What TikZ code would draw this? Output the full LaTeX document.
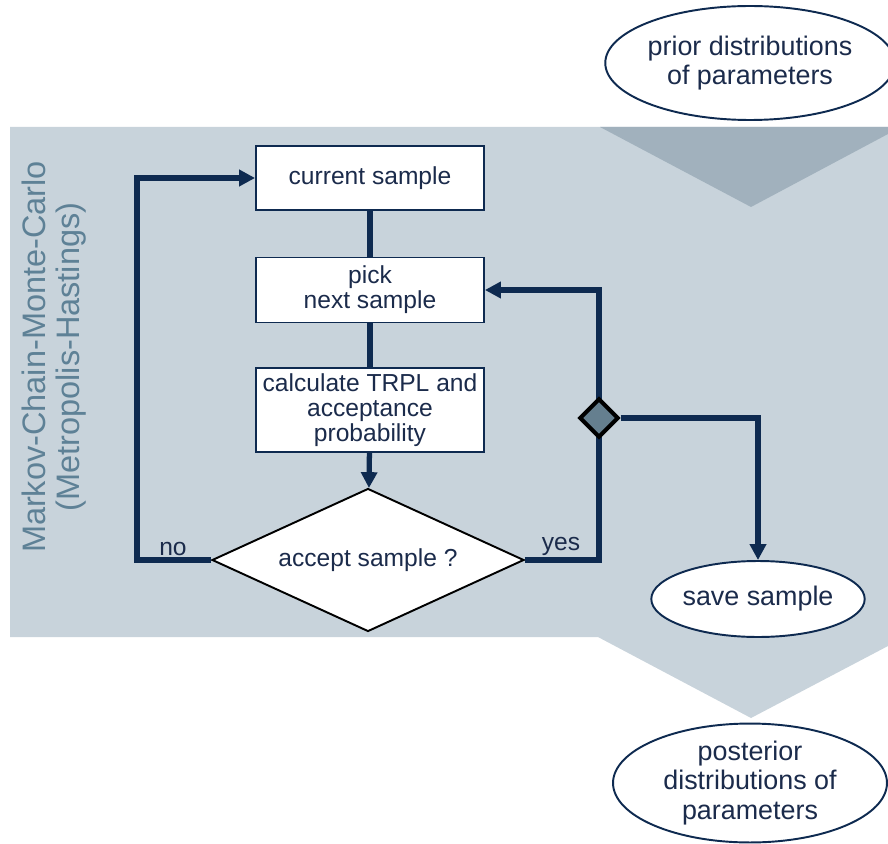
\documentclass[tikz,border=0pt]{standalone}
\usepackage{fontspec}
\setmainfont{Liberation Sans}
\usetikzlibrary{arrows.meta,shapes.geometric}
\definecolor{Panel}{HTML}{C8D3DB}
\definecolor{PanelDeep}{HTML}{A1B1BD}
\definecolor{Navy}{HTML}{0E2A50}
\definecolor{InkBlue}{HTML}{1B2B4B}
\definecolor{Slate}{HTML}{5E8196}
\definecolor{Knob}{HTML}{657F8F}

\begin{document}
\begin{tikzpicture}[x=0.02cm,y=-0.02cm,
  stepbox/.style={draw=Navy, line width=1.1pt, fill=white, minimum width=4.56cm, text=InkBlue, font=\fontsize{14}{14.2}\selectfont, align=center, inner sep=0pt},
  oval/.style={ellipse, draw=Navy, line width=1.1pt, fill=white, text=InkBlue, font=\fontsize{15.3}{16.8}\selectfont, align=center, inner sep=0pt},
  flow/.style={Navy, line width=3pt},
  tip/.style={-{Triangle[length=9pt,width=9pt]}},
  lbl/.style={text=InkBlue, font=\fontsize{14}{14}\selectfont, anchor=south, inner sep=1pt}]
\useasboundingbox (0,0) rectangle (888,844);
% background panel with the two chevrons
\fill[Panel] (10,127) -- (888,127) -- (888,646) -- (751,718) -- (598,637) -- (10,637) -- cycle;
\fill[PanelDeep] (600,127) -- (888,127) -- (888,134) -- (751,207) -- cycle;
\node[rotate=90, text=Slate, font=\fontsize{18.5}{19.5}\selectfont, align=center] (mcmc) at (54,357){Markov-Chain-Monte-Carlo\\(Metropolis-Hastings)};
% ellipses
\node[oval, minimum width=5.48cm, minimum height=2.28cm] (prior) at (750,63){prior distributions\\of parameters};
\node[oval, minimum width=4.2cm, minimum height=1.52cm] (save) at (758,599){save sample};
\node[oval, minimum width=5.48cm, minimum height=2.28cm] (post) at (750,783){posterior\\distributions of\\parameters};
% chain of steps
\node[stepbox, minimum height=1.28cm] (cur) at (370,178){current sample};
\node[stepbox, minimum height=1.3cm] (pick) at (370,290){pick\\next sample};
\node[stepbox, minimum height=1.68cm] (calc) at (370,410){calculate TRPL and\\acceptance\\probability};
\node[diamond, aspect=2.18, draw=black, line width=1.1pt, fill=white, minimum width=6.24cm, minimum height=2.86cm, inner sep=0pt, text=InkBlue, font=\fontsize{14}{14}\selectfont] (acc) at (368,560){accept sample ?};
\coordinate (noc) at (137,560);
\coordinate (yesc) at (599,560);
\draw[flow] (cur) -- (pick);
\draw[flow] (pick) -- (calc);
\draw[flow,tip] (calc) -- (acc);
\draw[flow,tip] (acc.west) -- (noc) |- (cur.west);
\draw[flow,tip] (acc.east) -- (yesc) |- (pick.east);
\node[diamond, draw=black, line width=2.3pt, fill=Knob, minimum size=0.78cm, inner sep=0pt] (fork) at (599,418){};
\draw[flow,tip] (fork.east) -| (save.north);
\node[lbl] (no) at (173,558){no};
\node[lbl] (yes) at (561,558){yes};
\end{tikzpicture}
\end{document}
